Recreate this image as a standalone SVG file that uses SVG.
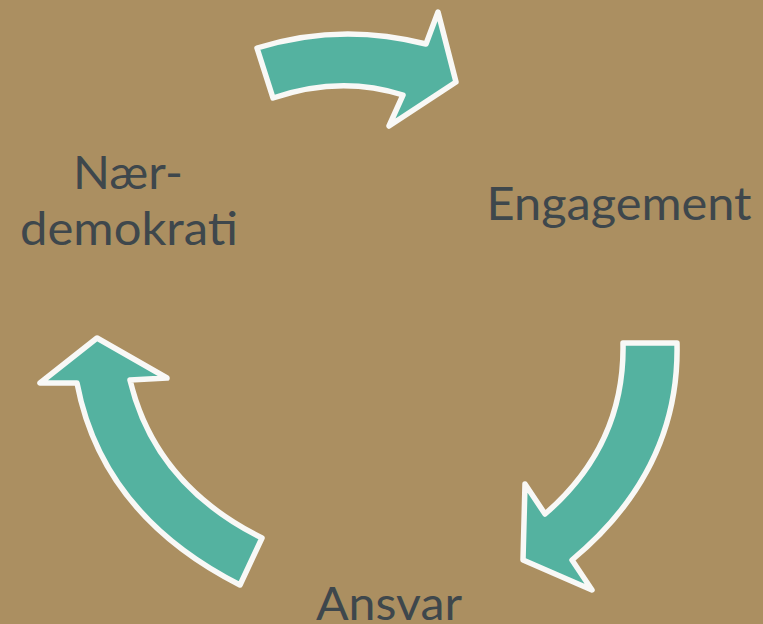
<svg xmlns="http://www.w3.org/2000/svg" width="763" height="624" viewBox="0 0 763 624">
<style>
.bg{fill:#AB8F61}
.arr{fill:#54B2A0;stroke:#F8F8F6;stroke-width:5.5;stroke-linejoin:round}
.lbl{font-family:Lato,"Open Sans","Liberation Sans",sans-serif;font-size:47px;fill:#3E474C;text-anchor:middle}
</style>
<rect class="bg" x="0" y="0" width="763" height="624"/>
<g id="connectors">
<path id="arrow-top" class="arr" d="M257,48 Q340,22 426,44 L438,12 L456,82 L389,126 L403,95 Q340,75 273,98 Z"/>
<path id="arrow-right" class="arr" d="M623,343 L677,343 Q680,470 572,560 L592,590 L523,560 L525,484 L545,514 Q625,445 623,343 Z"/>
<path id="arrow-left" class="arr" d="M240,585 L262,538 Q155,485 130,380 L167,378 L97,338 L40,383 L77,383 Q102,515 240,585 Z"/>
</g>
<g id="node-naerdemokrati">
<text class="lbl" x="128" y="189" textLength="110" lengthAdjust="spacingAndGlyphs">Nær-</text>
<text class="lbl" x="129" y="245" textLength="218" lengthAdjust="spacingAndGlyphs">demokrati</text>
</g>
<g id="node-engagement">
<text class="lbl" x="619" y="220" textLength="265" lengthAdjust="spacingAndGlyphs">Engagement</text>
</g>
<g id="node-ansvar">
<text class="lbl" x="389" y="620" textLength="146" lengthAdjust="spacingAndGlyphs">Ansvar</text>
</g>
</svg>
